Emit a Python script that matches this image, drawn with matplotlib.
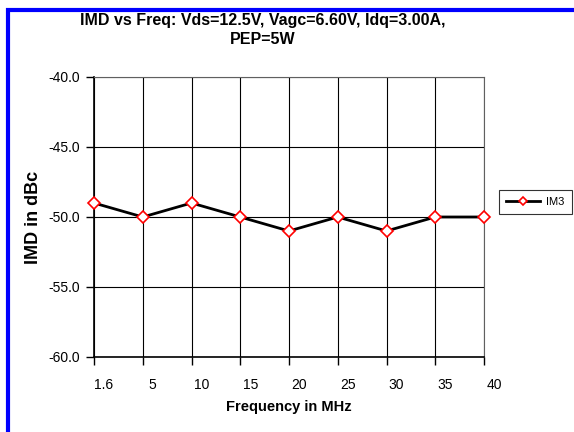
import matplotlib.pyplot as plt
import matplotlib.transforms as mtransforms
from matplotlib.patches import Rectangle

plt.rcParams['font.family'] = ['Liberation Sans', 'DejaVu Sans']

freq_labels = ["1.6", "5", "10", "15", "20", "25", "30", "35", "40"]
im3 = [-49, -50, -49, -50, -51, -50, -51, -50, -50]
y_ticks = [-60, -55, -50, -45, -40]


def main():
    fig = plt.figure(figsize=(5.74, 4.32), dpi=100)
    W, H = 574, 432
    ax = fig.add_axes([94 / W, 1 - 357 / H, (484 - 94) / W, (357 - 77) / H])

    # blue chart border (runs off the right / bottom edge)
    fig.patches.append(Rectangle((8 / W, -0.1), 1.2, 1 - 10 / H + 0.1,
                                 transform=fig.transFigure, fill=False,
                                 edgecolor="#0000ff", linewidth=3))

    x = list(range(len(freq_labels)))
    ax.plot(x, im3, color="black", linewidth=2, marker="D", markersize=6,
            markerfacecolor="white", markeredgecolor="red",
            markeredgewidth=1.2, label="IM3", zorder=3, clip_on=False)

    ax.set_xlim(0, len(freq_labels) - 1)
    ax.set_ylim(-60, -40)
    ax.set_xticks(x)
    ax.set_xticklabels(freq_labels, fontsize=10)
    ax.set_yticks(y_ticks)
    ax.set_yticklabels([f"{v:.1f}" for v in y_ticks], fontsize=10)

    ax.grid(True, color="black", linewidth=0.8)
    ax.set_axisbelow(True)
    ax.tick_params(direction="out", length=6, width=1)
    ax.tick_params(axis="x", pad=9)
    ax.tick_params(axis="y", pad=4)
    for s in ["top", "right"]:
        ax.spines[s].set_color("#606060")
        ax.spines[s].set_linewidth(0.8)
    for s in ["left", "bottom"]:
        ax.spines[s].set_linewidth(1.2)

    # Excel-style category labels sit right of their ticks
    # (done after tick_params, which resets label transforms)
    off = mtransforms.ScaledTranslation(10 / 100, 0, fig.dpi_scale_trans)
    for lbl in ax.xaxis.get_majorticklabels():
        lbl.set_transform(lbl.get_transform() + off)

    ax.set_xlabel("Frequency in MHz", fontsize=10.5, fontweight="bold", labelpad=6)
    ax.set_ylabel("IMD in dBc", fontsize=13, fontweight="bold", labelpad=5)
    fig.text(263 / W, 1 - 30 / H,
             "IMD vs Freq: Vds=12.5V, Vagc=6.60V, Idq=3.00A,\nPEP=5W",
             ha="center", va="center", fontsize=11.5, fontweight="bold",
             linespacing=1.35)

    leg = ax.legend(loc="upper left", bbox_to_anchor=(499 / W, 1 - 190 / H),
                    bbox_transform=fig.transFigure, fontsize=8, frameon=True,
                    fancybox=False, edgecolor="black", borderpad=0.65,
                    borderaxespad=0, handlelength=3.0, handletextpad=0.6,
                    markerscale=0.75)
    leg.get_frame().set_linewidth(0.8)

    fig.savefig("out.png", dpi=100)
    plt.close(fig)


if __name__ == "__main__":
    main()
